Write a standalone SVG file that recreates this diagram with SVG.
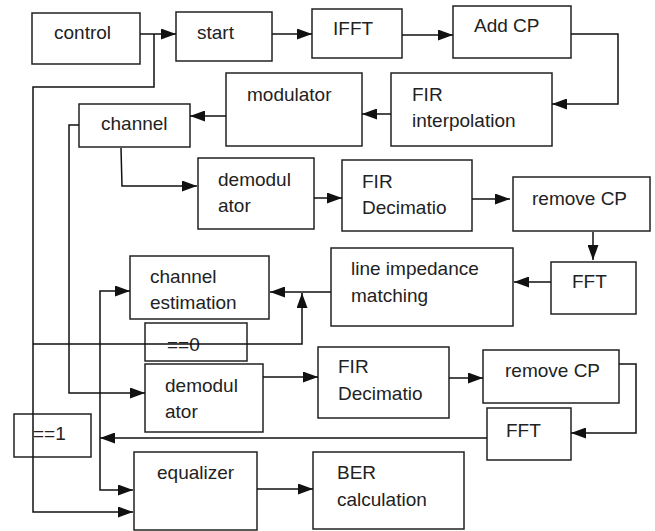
<svg xmlns="http://www.w3.org/2000/svg" width="655" height="531" viewBox="0 0 655 531">
<style>
.box{fill:#fff;stroke:#222;stroke-width:1.5}
.open{fill:none;stroke:#222;stroke-width:1.5}
text{font-family:"Liberation Sans",Arial,sans-serif;font-size:19px;fill:#222}
.c{fill:none;stroke:#111;stroke-width:1.5}
.a{marker-end:url(#ah)}
</style>
<defs>
<marker id="ah" markerUnits="userSpaceOnUse" markerWidth="15" markerHeight="11" refX="15" refY="5.5" orient="auto">
<path d="M0,0 L15,5.5 L0,11 z" fill="#111"/>
</marker>
</defs>
<rect width="655" height="531" fill="#fff"/>
<g id="control"><rect class="box" x="32" y="13" width="108" height="51"/><text x="54" y="39">control</text></g>
<g id="start"><rect class="box" x="176" y="12" width="96" height="49"/><text x="197" y="39">start</text></g>
<g id="ifft"><rect class="box" x="312" y="9" width="90" height="49"/><text x="333" y="35">IFFT</text></g>
<g id="addcp"><rect class="box" x="453" y="6" width="118" height="52"/><text x="474" y="32">Add CP</text></g>
<g id="firinterp"><rect class="box" x="391" y="73" width="161" height="73"/><text x="412" y="101">FIR</text><text x="412" y="127">interpolation</text></g>
<g id="modulator"><rect class="box" x="226" y="73" width="136" height="73"/><text x="247" y="101">modulator</text></g>
<g id="channel"><rect class="box" x="79" y="104" width="111" height="43"/><text x="101" y="130">channel</text></g>
<g id="demod1"><rect class="box" x="198" y="158" width="116" height="71"/><text x="218" y="186">demodul</text><text x="218" y="212">ator</text></g>
<g id="firdec1"><rect class="box" x="342" y="160" width="130" height="71"/><text x="362" y="188">FIR</text><text x="362" y="214">Decimatio</text></g>
<g id="removecp1"><rect class="box" x="513" y="177" width="137" height="54"/><text x="532" y="205">remove CP</text></g>
<g id="fft1"><rect class="box" x="551" y="262" width="85" height="52"/><text x="572" y="288">FFT</text></g>
<g id="lineimp"><rect class="box" x="331" y="248" width="182" height="78"/><text x="351" y="275">line impedance</text><text x="351" y="302">matching</text></g>
<g id="chanest"><rect class="box" x="130" y="256" width="139" height="63"/><text x="150" y="283">channel</text><text x="150" y="309">estimation</text></g>
<g id="eq0"><rect class="open" x="145" y="323" width="102" height="38"/><text x="167" y="351">==0</text></g>
<g id="demod2"><rect class="box" x="145" y="364" width="118" height="68"/><text x="165" y="392">demodul</text><text x="165" y="418">ator</text></g>
<g id="firdec2"><rect class="box" x="318" y="347" width="131" height="71"/><text x="338" y="373">FIR</text><text x="338" y="400">Decimatio</text></g>
<g id="removecp2"><rect class="box" x="483" y="350" width="136" height="53"/><text x="505" y="377">remove CP</text></g>
<g id="fft2"><rect class="box" x="487" y="408" width="84" height="52"/><text x="506" y="437">FFT</text></g>
<g id="eq1"><rect class="open" x="14" y="414" width="77" height="43"/><text x="33" y="440">==1</text></g>
<g id="equalizer"><rect class="box" x="134" y="452" width="123" height="78"/><text x="157" y="479">equalizer</text></g>
<g id="ber"><rect class="box" x="313" y="452" width="151" height="77"/><text x="337" y="479">BER</text><text x="337" y="506">calculation</text></g>
<g id="connectors">
<path class="c a" d="M140,34 H176"/>
<path class="c a" d="M272,34 H312"/>
<path class="c a" d="M402,35 H453"/>
<path class="c a" d="M571,34 H618 V104 H552"/>
<path class="c a" d="M391,114 H362"/>
<path class="c a" d="M226,116 H190"/>
<path class="c a" d="M121,148 L122,186 H197"/>
<path class="c a" d="M314,198 H342"/>
<path class="c a" d="M472,199 H510"/>
<path class="c a" d="M593,232 V260"/>
<path class="c a" d="M551,282 H514"/>
<path class="c a" d="M331,292 H270"/>
<path class="c a" d="M154,34 V87 H33 V512 H133"/>
<path class="c a" d="M33,344 H302 V293"/>
<path class="c a" d="M79,125 H69 V393 H145"/>
<path class="c a" d="M100,438 V291 H130"/>
<path class="c a" d="M100,438 V490 H133"/>
<path class="c a" d="M487,438 H100"/>
<path class="c a" d="M263,377 H318"/>
<path class="c a" d="M449,378 H483"/>
<path class="c a" d="M619,364 H636 V433 H571"/>
<path class="c a" d="M257,489 H313"/>
</g>
</svg>
